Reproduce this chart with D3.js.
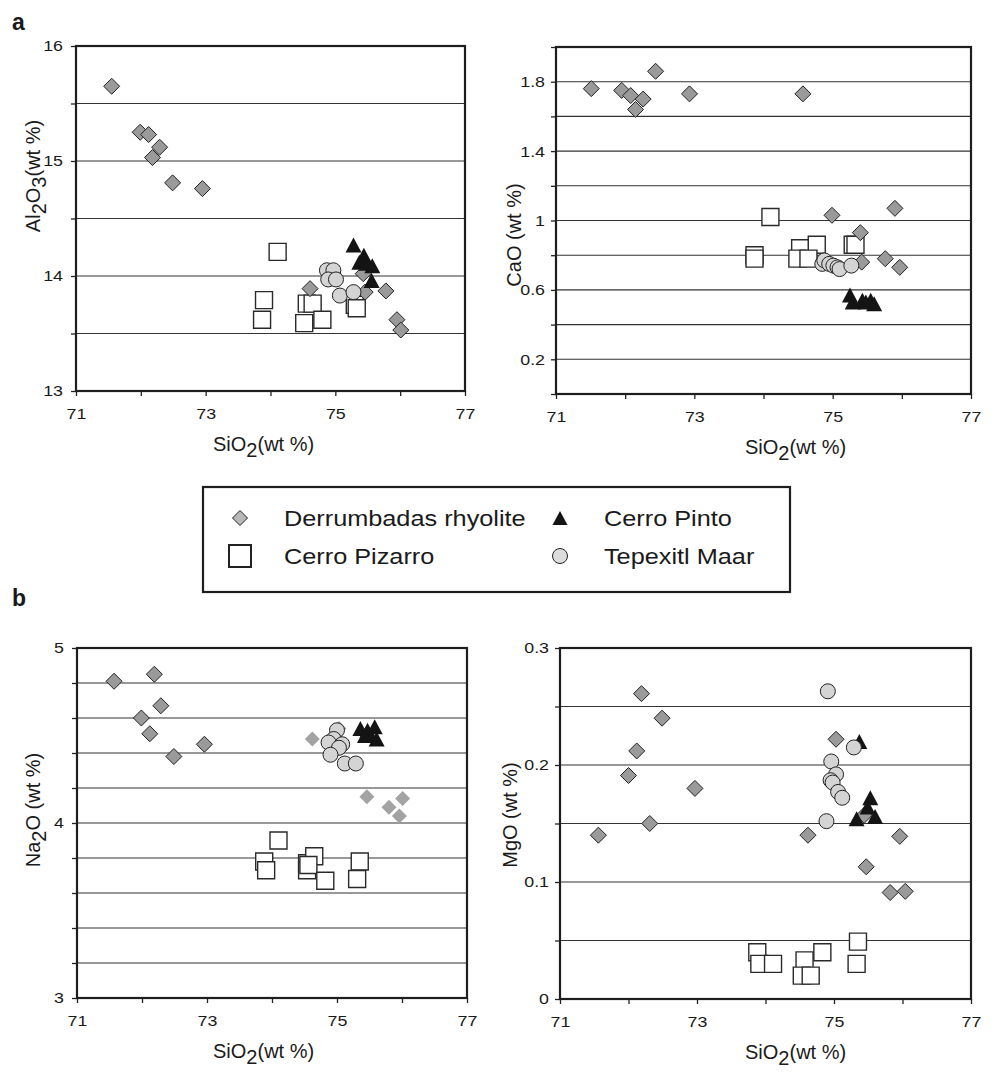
<!DOCTYPE html>
<html>
<head>
<meta charset="utf-8">
<script src="https://cdn.jsdelivr.net/npm/d3@7"></script>
<style>
body { margin: 0; background: #fff; }
text { font-family: "Liberation Sans", Arial, sans-serif; fill: #1a1a1a; }
</style>
</head>
<body>
<svg id="drawing_region"></svg>
<script>
// ---- data: [SiO2, oxide] in wt % ----

// Al2O3
const alDerrumbadas = [[71.55,15.65],[71.99,15.25],[72.12,15.23],[72.29,15.12],[72.18,15.03],[72.49,14.81],[72.95,14.76],
  [74.61,13.89],[75.43,14.02],[75.46,13.86],[75.78,13.87],[75.95,13.62],[76.01,13.53]];
const alPizarro = [[74.11,14.21],[73.90,13.79],[73.87,13.62],[74.56,13.76],[74.65,13.76],[74.52,13.59],[74.80,13.62],[75.30,13.75],[75.33,13.72]];
const alPinto = [[75.28,14.27],[75.44,14.18],[75.37,14.12],[75.48,14.11],[75.57,14.09],[75.56,13.96]];
const alTepexitl = [[74.87,14.05],[74.97,14.05],[74.89,13.97],[75.01,13.97],[75.07,13.83],[75.28,13.86]];

// CaO
const caDerrumbadas = [[71.51,1.76],[71.95,1.75],[72.08,1.72],[72.26,1.70],[72.15,1.64],[72.44,1.86],[72.93,1.73],[74.57,1.73],
  [74.99,1.03],[75.90,1.07],[75.40,0.93],[75.42,0.76],[75.76,0.78],[75.97,0.73]];
const caPizarro = [[74.10,1.02],[73.87,0.80],[73.87,0.78],[74.53,0.84],[74.77,0.86],[74.49,0.78],[74.65,0.78],[75.29,0.86],[75.33,0.86]];
const caPinto = [[75.25,0.57],[75.29,0.53],[75.43,0.54],[75.48,0.53],[75.55,0.54],[75.60,0.52]];
const caTepexitl = [[74.85,0.75],[74.88,0.77],[74.95,0.75],[75.01,0.74],[75.07,0.73],[75.10,0.72],[75.27,0.74]];

// Na2O
const naDerrumbadas = [[71.57,4.81],[72.19,4.85],[72.29,4.67],[71.99,4.60],[72.12,4.51],[72.49,4.38],[72.96,4.45]];
const naDerrumbadasPale = [[74.62,4.48],[75.03,4.54],[75.46,4.15],[75.80,4.09],[76.01,4.14],[75.96,4.04]];
const naPizarro = [[74.10,3.90],[73.88,3.78],[73.91,3.73],[74.54,3.77],[74.65,3.81],[74.54,3.73],[74.56,3.76],[74.82,3.67],[75.35,3.78],[75.31,3.68]];
const naPinto = [[75.36,4.54],[75.47,4.53],[75.58,4.55],[75.43,4.50],[75.52,4.50],[75.61,4.48]];
const naTepexitl = [[75.00,4.53],[74.95,4.48],[74.87,4.46],[75.08,4.45],[75.03,4.43],[74.90,4.39],[75.12,4.34],[75.29,4.34]];

// MgO
const mgDerrumbadas = [[72.19,0.261],[72.49,0.240],[72.12,0.212],[72.00,0.191],[72.97,0.180],[72.31,0.150],[71.56,0.140],[74.62,0.140],
  [75.03,0.222],[75.96,0.139],[75.47,0.113],[75.82,0.091],[76.04,0.092],[75.44,0.157]];
const mgPizarro = [[73.88,0.040],[73.91,0.030],[74.11,0.030],[74.57,0.033],[74.83,0.040],[74.53,0.020],[74.66,0.020],[75.35,0.049],[75.33,0.030]];
const mgPinto = [[75.37,0.220],[75.53,0.172],[75.49,0.164],[75.33,0.154],[75.60,0.156]];
const mgTepexitl = [[74.91,0.263],[75.29,0.215],[74.96,0.203],[75.03,0.192],[74.95,0.187],[74.98,0.185],[75.06,0.177],[75.12,0.172],[74.89,0.152]];

// axes
const xTicks = [71,72,73,74,75,76,77];
const xTickLabels = [71,73,75,77];
const alTicks = [13,13.5,14,14.5,15,15.5,16];
const alTickLabels = [13,14,15,16];
const caTicks = [0,0.2,0.4,0.6,0.8,1,1.2,1.4,1.6,1.8,2];
const caTickLabels = [0.2,0.6,1,1.4,1.8];
const naTicks = [3,3.2,3.4,3.6,3.8,4,4.2,4.4,4.6,4.8,5];
const naTickLabels = [3,4,5];
const mgTicks = [0,0.05,0.1,0.15,0.2,0.25,0.3];
const mgTickLabels = [0,0.1,0.2,0.3];

const legendNames = ["Derrumbadas rhyolite", "Cerro Pizarro", "Cerro Pinto", "Tepexitl Maar"];

// ---- drawing ----
const svg = d3.select('#drawing_region')
  .attr('width', 995)
  .attr('height', 1074);

const diamond = r => `M0,${-r}L${r},0L0,${r}L${-r},0Z`;
const square = h => `M${-h},${-h}H${h}V${h}H${-h}Z`;
const triangle = (w, h) => `M0,${-h/2}L${w/2},${h/2}L${-w/2},${h/2}Z`;
const near = (list, v) => list.some(l => Math.abs(l - v) < 1e-9);

// the original lettering is a wide Helvetica; stretch Liberation Sans a bit
const WIDE = 1.15;
function widen(sel) {
  sel.each(function () {
    const t = d3.select(this);
    const x = +t.attr('x') || 0;
    t.attr('x', x / WIDE).attr('transform', `scale(${WIDE},1)`);
  });
}

class ScatterPanel {
  constructor(config, series) {
    this.config = config;
    this.series = series;
    this.init();
    this.render();
  }

  init() {
    let self = this;
    const c = self.config;
    self.xscale = d3.scaleLinear().domain([71, 77]).range([c.left, c.right]);
    self.yscale = d3.scaleLinear().domain(c.ydomain).range([c.bottom, c.top]);
    self.g = svg.append('g');
  }

  render() {
    let self = this;
    const c = self.config;

    // horizontal grid
    self.g.append('g').selectAll('line')
      .data(c.yticks.slice(1, -1))
      .join('line')
      .attr('x1', c.left).attr('x2', c.right)
      .attr('y1', d => self.yscale(d)).attr('y2', d => self.yscale(d))
      .attr('stroke', '#333').attr('stroke-width', 1.1);

    const yaxis = d3.axisLeft(self.yscale)
      .tickValues(c.yticks)
      .tickSize(5)
      .tickPadding(c.ypad)
      .tickFormat(d => near(c.ylabels, d) ? d3.format('~g')(d) : '');
    const ya = self.g.append('g').attr('transform', `translate(${c.left},0)`).call(yaxis);

    const xaxis = d3.axisBottom(self.xscale)
      .tickValues(xTicks)
      .tickSize(5)
      .tickPadding(12)
      .tickFormat(d => near(xTickLabels, d) ? d : '');
    const xa = self.g.append('g').attr('transform', `translate(0,${c.bottom})`).call(xaxis);

    [ya, xa].forEach(a => {
      a.select('.domain').remove();
      a.selectAll('line').attr('stroke', '#222').attr('stroke-width', 1.3);
      a.selectAll('text').attr('font-size', 15.5).attr('fill', '#1a1a1a')
        .attr('font-family', '"Liberation Sans", Arial, sans-serif')
        .call(widen);
    });

    // markers
    const s = self.series;
    const put = d => `translate(${self.xscale(d[0])},${self.yscale(d[1])})`;
    const marks = self.g.append('g');

    marks.selectAll('path.piz').data(s.pizarro).join('path')
      .attr('class', 'piz').attr('d', square(8.5)).attr('transform', put)
      .attr('fill', '#fff').attr('stroke', '#2a2a2a').attr('stroke-width', 1.4);

    marks.selectAll('path.pale').data(s.pale || []).join('path')
      .attr('class', 'pale').attr('d', diamond(7.5)).attr('transform', put)
      .attr('fill', '#a3a3a3');

    marks.selectAll('path.derr').data(s.derr).join('path')
      .attr('class', 'derr').attr('d', diamond(8)).attr('transform', put)
      .attr('fill', '#9a9a9a').attr('stroke', '#222').attr('stroke-width', 1);

    marks.selectAll('path.pinto').data(s.pinto).join('path')
      .attr('class', 'pinto').attr('d', triangle(16, 15)).attr('transform', put)
      .attr('fill', '#141414');

    marks.selectAll('circle.tep').data(s.tep).join('circle')
      .attr('class', 'tep').attr('r', 7.5)
      .attr('cx', d => self.xscale(d[0])).attr('cy', d => self.yscale(d[1]))
      .attr('fill', '#d4d4d4').attr('stroke', '#222').attr('stroke-width', 1);

    // frame
    self.g.append('rect')
      .attr('x', c.left).attr('y', c.top)
      .attr('width', c.right - c.left).attr('height', c.bottom - c.top)
      .attr('fill', 'none').attr('stroke', '#1e1e1e').attr('stroke-width', 2.2);

    // axis titles
    const xt = self.g.append('text')
      .attr('x', c.xtitleX).attr('y', c.bottom + 60)
      .attr('font-size', 20);
    xt.append('tspan').text('SiO');
    xt.append('tspan').attr('dy', 6).text('2');
    xt.append('tspan').attr('dy', -6).text('(wt %)');

    const yt = self.g.append('text')
      .attr('transform', `translate(${c.ytitleX},${c.ytitleY}) rotate(-90)`)
      .attr('text-anchor', 'middle')
      .attr('font-size', 20);
    c.ytitle.forEach(p => {
      yt.append('tspan').attr('dy', p[1]).text(p[0]);
    });
  }
}

new ScatterPanel({
  left: 76, right: 465, top: 46, bottom: 391,
  ydomain: [13, 16], yticks: alTicks, ylabels: alTickLabels, ypad: 8,
  xtitleX: 213, ytitleX: 40, ytitleY: 176,
  ytitle: [['Al', 0], ['2', 6], ['O', -6], ['3', 6], ['(wt %)', -6]]
}, { derr: alDerrumbadas, pizarro: alPizarro, pinto: alPinto, tep: alTepexitl });

new ScatterPanel({
  left: 556, right: 971, top: 47, bottom: 394,
  ydomain: [0, 2], yticks: caTicks, ylabels: caTickLabels, ypad: 6,
  xtitleX: 745, ytitleX: 521, ytitleY: 235,
  ytitle: [['CaO (wt %)', 0]]
}, { derr: caDerrumbadas, pizarro: caPizarro, pinto: caPinto, tep: caTepexitl });

new ScatterPanel({
  left: 77, right: 467, top: 648, bottom: 998,
  ydomain: [3, 5], yticks: naTicks, ylabels: naTickLabels, ypad: 8,
  xtitleX: 213, ytitleX: 40, ytitleY: 810,
  ytitle: [['Na', 0], ['2', 6], ['O (wt %)', -6]]
}, { derr: naDerrumbadas, pale: naDerrumbadasPale, pizarro: naPizarro, pinto: naPinto, tep: naTepexitl });

new ScatterPanel({
  left: 560, right: 971, top: 648, bottom: 999,
  ydomain: [0, 0.3], yticks: mgTicks, ylabels: mgTickLabels, ypad: 6,
  xtitleX: 745, ytitleX: 517, ytitleY: 815,
  ytitle: [['MgO (wt %)', 0]]
}, { derr: mgDerrumbadas, pizarro: mgPizarro, pinto: mgPinto, tep: mgTepexitl });

// panel letters
svg.append('text').attr('x', 12).attr('y', 30).attr('font-size', 23).attr('font-weight', 'bold').text('a');
svg.append('text').attr('x', 12).attr('y', 606).attr('font-size', 23).attr('font-weight', 'bold').text('b');

// legend
const legend = svg.append('g');
legend.append('rect')
  .attr('x', 203).attr('y', 487).attr('width', 587).attr('height', 105)
  .attr('fill', '#fff').attr('stroke', '#1e1e1e').attr('stroke-width', 2.2);

const legendItems = [
  { name: legendNames[0], x: 240, y: 518 },
  { name: legendNames[1], x: 240, y: 556 },
  { name: legendNames[2], x: 560, y: 518 },
  { name: legendNames[3], x: 560, y: 556 }
];
legend.append('path').attr('d', diamond(7.5)).attr('transform', `translate(${legendItems[0].x},${legendItems[0].y})`)
  .attr('fill', '#b8b8b8').attr('stroke', '#222').attr('stroke-width', 1);
legend.append('path').attr('d', square(11)).attr('transform', `translate(${legendItems[1].x},${legendItems[1].y})`)
  .attr('fill', '#fff').attr('stroke', '#222').attr('stroke-width', 2);
legend.append('path').attr('d', triangle(15, 14)).attr('transform', `translate(${legendItems[2].x},${legendItems[2].y})`)
  .attr('fill', '#141414');
legend.append('circle').attr('cx', legendItems[3].x).attr('cy', legendItems[3].y).attr('r', 7.5)
  .attr('fill', '#dcdcdc').attr('stroke', '#222').attr('stroke-width', 1);

legend.selectAll('text.lg').data(legendItems).join('text')
  .attr('class', 'lg')
  .attr('x', d => d.x + 44).attr('y', d => d.y + 8)
  .attr('font-size', 22)
  .text(d => d.name)
  .call(widen);
</script>
</body>
</html>
